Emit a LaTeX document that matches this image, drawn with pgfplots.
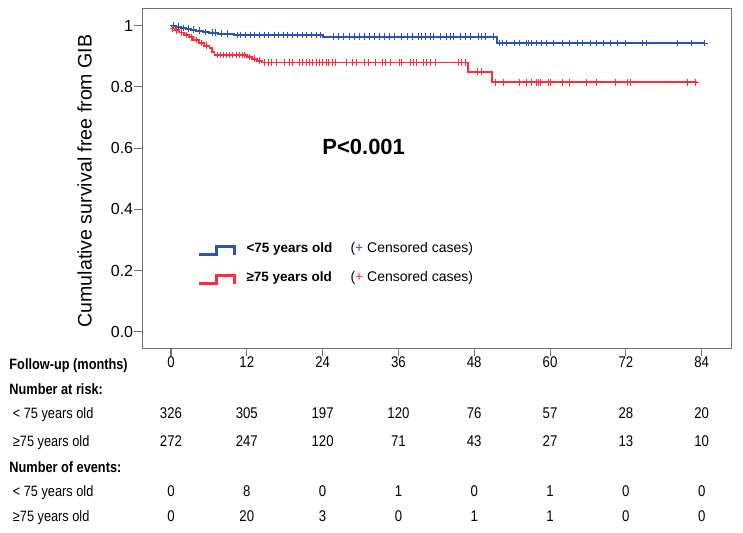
\documentclass[border=0pt]{standalone}
\usepackage{pgfplots}
\pgfplotsset{compat=1.18}
\usepackage{pgfplotstable}
\usepackage{fontspec}
\setmainfont{Liberation Sans}
\newfontfamily\narrow[FakeStretch=0.85]{Liberation Sans}
\definecolor{kmblue}{RGB}{45,85,175}
\definecolor{kmred}{RGB}{255,45,55}
\definecolor{axgray}{RGB}{115,115,115}

% Kaplan-Meier curves
\pgfplotstableread{
x y
0 1.000
0.8 0.997
1.6 0.993
2.4 0.990
3.2 0.987
4.0 0.984
5.0 0.980
6.0 0.977
7.5 0.974
10.0 0.970
24.1 0.964
51.55 0.943
84.4 0.943
}\bluecurve
\pgfplotstableread{
x y
0 0.991
0.6 0.985
1.3 0.978
2.0 0.970
2.8 0.962
3.5 0.953
4.4 0.944
5.2 0.935
6.1 0.926
6.5 0.915
6.9 0.904
12.0 0.898
12.8 0.892
13.6 0.886
14.36 0.880
47.05 0.850
50.76 0.815
83.2 0.815
}\redcurve
% censored cases
\pgfplotstableread{
x y
0.4 1.000
1.2 0.997
2.0 0.993
2.8 0.990
3.6 0.987
4.5 0.984
5.5 0.980
6.5 0.977
7.0 0.977
8.0 0.974
9.0 0.974
10.5 0.970
11.0 0.970
11.8 0.970
12.5 0.970
13.2 0.970
14.0 0.970
14.8 0.970
15.5 0.970
16.3 0.970
17.0 0.970
17.8 0.970
18.5 0.970
19.3 0.970
20.0 0.970
20.8 0.970
21.5 0.970
22.3 0.970
23.0 0.970
23.6 0.970
25.7 0.964
26.5 0.964
27.3 0.964
28.2 0.964
29.0 0.964
29.8 0.964
30.6 0.964
31.4 0.964
32.2 0.964
33.0 0.964
33.8 0.964
34.5 0.964
35.4 0.964
36.5 0.964
37.4 0.964
38.2 0.964
39.2 0.964
39.7 0.964
40.3 0.964
41.1 0.964
41.6 0.964
42.7 0.964
43.6 0.964
44.3 0.964
44.7 0.964
45.8 0.964
46.6 0.964
47.4 0.964
48.7 0.964
49.1 0.964
49.8 0.964
51.0 0.964
52.0 0.943
52.5 0.943
53.1 0.943
54.4 0.943
55.2 0.943
56.2 0.943
56.5 0.943
57.1 0.943
57.9 0.943
58.7 0.943
59.5 0.943
60.5 0.943
62.0 0.943
63.1 0.943
64.4 0.943
65.2 0.943
66.4 0.943
67.4 0.943
68.4 0.943
69.5 0.943
70.6 0.943
71.9 0.943
74.7 0.943
75.3 0.943
80.1 0.943
82.4 0.943
84.4 0.943
}\bluecens
\pgfplotstableread{
x y
0.3 0.991
0.9 0.985
1.6 0.978
2.4 0.970
3.2 0.962
4.0 0.953
4.8 0.944
5.6 0.935
7.3 0.904
7.8 0.904
8.3 0.904
8.8 0.904
9.3 0.904
9.8 0.904
10.3 0.904
10.8 0.904
11.3 0.904
11.7 0.904
12.4 0.898
13.2 0.892
14.0 0.886
14.8 0.880
15.5 0.880
15.9 0.880
16.7 0.880
18.0 0.880
18.7 0.880
19.2 0.880
20.3 0.880
20.8 0.880
21.4 0.880
21.9 0.880
22.4 0.880
23.0 0.880
23.5 0.880
23.9 0.880
24.6 0.880
25.0 0.880
25.5 0.880
26.1 0.880
27.7 0.880
28.7 0.880
29.4 0.880
30.6 0.880
31.3 0.880
32.4 0.880
33.4 0.880
34.0 0.880
34.8 0.880
36.1 0.880
36.5 0.880
37.9 0.880
38.4 0.880
38.9 0.880
40.0 0.880
40.5 0.880
41.1 0.880
41.9 0.880
45.5 0.880
46.0 0.880
46.6 0.880
48.5 0.850
49.1 0.850
51.3 0.815
52.6 0.815
55.2 0.815
56.3 0.815
57.1 0.815
57.9 0.815
58.1 0.815
58.4 0.815
59.7 0.815
60.0 0.815
61.9 0.815
63.1 0.815
65.8 0.815
67.4 0.815
70.3 0.815
72.2 0.815
72.7 0.815
81.8 0.815
83.0 0.815
}\redcens
% risk table: month, row position, value
\pgfplotstableread{
x y n
0 -0.2657 326
12 -0.2657 305
24 -0.2657 197
36 -0.2657 120
48 -0.2657 76
60 -0.2657 57
72 -0.2657 28
84 -0.2657 20
0 -0.3572 272
12 -0.3572 247
24 -0.3572 120
36 -0.3572 71
48 -0.3572 43
60 -0.3572 27
72 -0.3572 13
84 -0.3572 10
0 -0.5206 0
12 -0.5206 8
24 -0.5206 0
36 -0.5206 1
48 -0.5206 0
60 -0.5206 1
72 -0.5206 0
84 -0.5206 0
0 -0.6023 0
12 -0.6023 20
24 -0.6023 3
36 -0.6023 0
48 -0.6023 1
60 -0.6023 1
72 -0.6023 0
84 -0.6023 0
}\risktable

\begin{document}
\begin{tikzpicture}[x=1pt,y=1pt]
\path[use as bounding box] (0,0) rectangle (743,532);
\begin{axis}[
  at={(142.3pt,183.7pt)}, anchor=south west,
  scale only axis, width=589.4pt, height=340pt,
  xmin=-4.54, xmax=88.75, ymin=-0.054, ymax=1.057,
  xtick={0,12,24,36,48,60,72,84},
  ytick={0,0.2,0.4,0.6,0.8,1},
  yticklabels={0.0,0.2,0.4,0.6,0.8,1},
  /pgf/number format/assume math mode=true,
  tick align=outside, tick pos=left, major tick length=8pt,
  axis line style={axgray, line width=1.3pt},
  tick style={axgray, line width=1.1pt},
  yticklabel style={font=\fontsize{16}{19}\selectfont, inner sep=0pt, xshift=-1pt},
  xticklabel style={font=\narrow\fontsize{15.5}{18}\selectfont, inner sep=0pt},
  ylabel={Cumulative survival free from GIB},
  ylabel style={at={(axis description cs:-0.0978,0.492)}, anchor=center, font=\fontsize{19.6}{23}\selectfont},
  clip=false,
  legend style={at={(axis cs:4.12,0.2922)}, anchor=north west, draw=none, fill=none,
    inner sep=0pt, row sep=15.9pt,
    nodes={inner sep=0pt, anchor=west, text height=10pt, text depth=3.5pt, font=\fontsize{14}{17}\selectfont}},
  legend cell align=left,
  legend image code/.code={\draw[#1, line width=2.6pt] (0pt,-5pt) -- (18pt,-5pt) -- (18pt,3pt) -- (36pt,3pt) -- (36pt,-5.5pt);
     \path[draw=none] (0pt,0pt) -- (48pt,0pt);},
]
\addplot[const plot, kmblue, line width=2.1pt] table {\bluecurve};
\addlegendentry{\makebox[104pt][l]{\fontsize{13.5}{16}\selectfont\bfseries <75 years old}(\textcolor{kmblue}{+} Censored cases)}
\addplot[const plot, kmred, line width=1.8pt] table {\redcurve};
\addlegendentry{\makebox[104pt][l]{\fontsize{13.5}{16}\selectfont\bfseries ≥75 years old}(\textcolor{kmred}{+} Censored cases)}
\addplot[only marks, mark=+, mark size=3.3pt, kmblue, line width=0.9pt, forget plot] table {\bluecens};
\addplot[only marks, mark=+, mark size=3.3pt, kmred, line width=0.9pt, forget plot] table {\redcens};
\addplot[only marks, mark=none, forget plot, nodes near coords, point meta=explicit symbolic,
  nodes near coords style={anchor=center, inner sep=0pt, text height=10.7pt, text depth=0pt, text=black,
    font=\narrow\fontsize{15.5}{18}\selectfont}]
  table[x=x, y=y, meta=n] {\risktable};
\node[font=\bfseries\fontsize{22}{26}\selectfont] at (axis cs:30.5,0.6036) {P<0.001};
\begin{scope}[every node/.style={anchor=west, inner sep=0pt, text height=10.7pt, text depth=0pt, font=\narrow\fontsize{15}{18}\selectfont}]
\node at (axis cs:-25.6,-0.1056) {\bfseries Follow-up (months)};
\node at (axis cs:-25.6,-0.1873) {\bfseries Number at risk:};
\node at (axis cs:-25.05,-0.2657) {< 75 years old};
\node at (axis cs:-25.05,-0.3572) {≥75 years old};
\node at (axis cs:-25.6,-0.4422) {\bfseries Number of events:};
\node at (axis cs:-25.05,-0.5206) {< 75 years old};
\node at (axis cs:-25.05,-0.6023) {≥75 years old};
\end{scope}
\end{axis}
\end{tikzpicture}
\end{document}
